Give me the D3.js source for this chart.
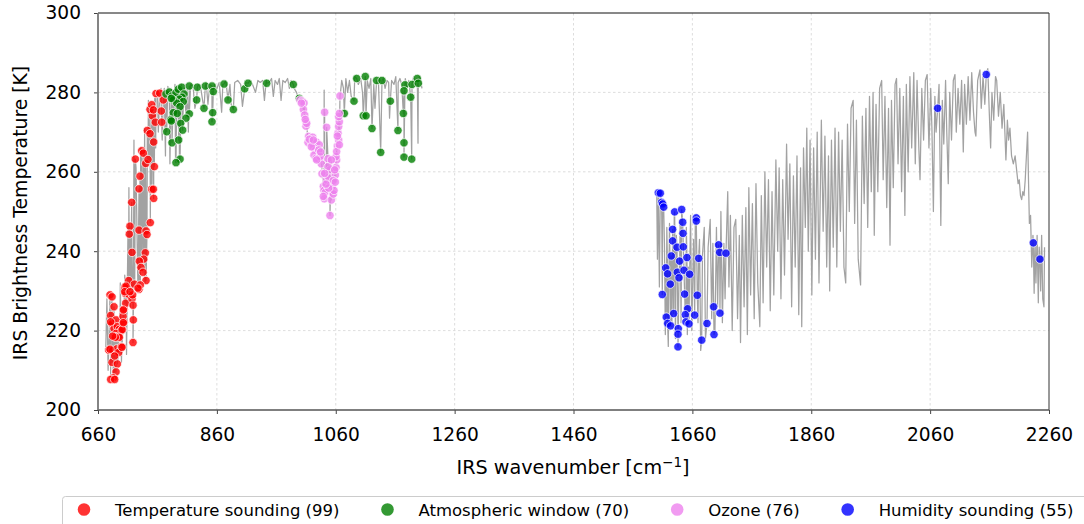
<!DOCTYPE html>
<html>
<head>
<meta charset="utf-8">
<script src="https://cdn.jsdelivr.net/npm/d3@7"></script>
<style>
  html, body { margin: 0; padding: 0; background: #fff; }
  svg { display: block; font-family: "DejaVu Sans", sans-serif; }
</style>
</head>
<body>
<div id="chart"></div>
<script>
// tick labels
var xTicks = [660, 860, 1060, 1260, 1460, 1660, 1860, 2060, 2260];
var yTicks = [200, 220, 240, 260, 280, 300];

// legend
var groupNames = ['Temperature sounding', 'Atmospheric window', 'Ozone', 'Humidity sounding'];
var groupCounts = [99, 70, 76, 55];
var groupColors = ['red', 'green', 'violet', 'blue'];

// selected channels [wavenumber, brightness temperature]
var tempPts = [
  [680.2,229.0],[683.6,228.5],[686.9,226.0],[681.3,223.8],[683.6,221.7],[690.3,222.7],[686.9,220.5],[692.5,221.0],
  [695.9,220.3],[697.0,219.6],[701.5,220.3],[703.7,222.1],[702.1,223.6],[703.7,225.4],[706.6,226.9],[706.0,229.4],
  [709.3,230.8],[711.6,232.6],[704.9,230.9],[712.7,229.0],[717.2,228.0],[718.9,226.4],[719.4,222.7],[718.9,217.0],
  [678.0,215.1],[684.7,215.0],[691.4,215.4],[699.2,215.9],[694.8,214.5],[683.6,212.0],[692.5,211.6],[690.3,209.6],
  [685.8,208.1],[681.3,207.7],[688.0,207.7],[690.3,219.3],[688.0,218.5],[694.8,218.6],[713.8,246.3],[712.7,244.3],
  [717.2,239.7],[716.7,252.3],[722.8,263.2],[730.7,258.9],[729.0,255.7],[729.0,245.3],[733.5,265.3],[736.3,264.7],
  [740.2,262.1],[744.1,263.1],[750.3,255.6],[753.1,255.6],[753.7,253.3],[754.8,261.3],[748.0,247.2],[740.8,245.1],
  [742.4,244.2],[739.6,239.6],[736.9,238.0],[729.5,237.5],[732.3,235.9],[735.7,234.7],[740.8,232.6],[721.1,231.7],
  [729.0,230.4],[731.2,231.5],[743.0,270.4],[747.5,269.6],[753.7,267.5],[751.4,274.1],[747.5,275.7],[750.3,276.9],
  [753.1,275.6],[756.4,272.5],[767.2,272.5],[766.5,275.3],[757.6,279.7],[763.8,279.8],[769.9,278.1],[681.3,222.2],
  [700.4,220.2],[695.9,218.3],[689.2,218.3],[684.7,218.6],[680.2,215.3],[700.4,215.8],[688.0,213.6],[707.1,231.2],
  [704.9,229.8],[702.6,225.2],[702.6,222.0],[718.3,229.0],[713.8,229.8],[727.3,230.7]
];
var windowPts = [
  [774.4,279.6],[780.0,280.1],[784.5,279.1],[791.2,279.9],[795.1,280.8],[800.8,281.3],[804.7,279.6],[801.3,278.8],
  [796.8,278.3],[803.5,277.7],[786.7,278.1],[792.4,277.3],[798.0,276.4],[786.7,274.9],[782.3,273.1],[775.6,270.1],
  [793.4,274.7],[813.6,281.6],[827.1,281.3],[840.6,281.6],[851.8,281.6],[854.0,280.2],[826.0,278.1],[838.3,276.0],
  [853.0,274.9],[851.8,272.6],[813.6,274.6],[808.0,273.5],[799.1,272.2],[802.5,270.5],[784.5,267.3],[795.7,268.0],
  [798.0,263.2],[791.2,262.3],[872.0,282.1],[878.7,278.1],[887.7,275.7],[906.8,280.9],[912.4,282.3],[943.8,282.3],
  [988.6,282.0],[998.7,278.5],[783.4,278.5],[783.4,272.8],
  [1095.2,283.5],[1109.7,284.0],[1128.8,283.0],[1137.8,283.0],[1197.2,283.5],[1176.5,281.9],[1188.3,282.0],[1198.9,282.3],
  [1174.8,280.4],[1186.1,278.8],[1090.7,277.8],[1151.8,277.8],[1074.4,274.7],[1106.3,274.1],[1110.9,274.1],[1173.7,274.7],
  [1121.0,270.9],[1164.7,270.4],[1174.8,267.3],[1135.6,264.9],[1174.8,263.7],[1187.8,263.2]
];
var ozonePts = [
  [999.8,278.1],[1003.2,277.8],[1006.6,277.3],[1005.5,275.7],[1007.7,274.3],[1009.9,272.6],[1009.9,271.5],[1014.4,268.9],
  [1017.8,268.4],[1021.2,268.7],[1013.3,267.4],[1020.0,267.2],[1024.5,267.6],[1027.9,267.4],[1032.4,266.8],[1022.3,266.2],
  [1025.6,265.3],[1029.0,264.7],[1023.4,264.2],[1032.4,263.1],[1035.7,262.0],[1036.9,259.5],[1039.1,256.3],[1040.2,255.3],
  [1042.5,254.8],[1040.8,253.2],[1044.7,257.9],[1048.1,258.6],[1050.3,260.5],[1049.2,263.0],[1047.0,263.3],[1051.4,256.7],
  [1053.7,256.3],[1054.8,254.6],[1052.6,252.9],[1055.9,254.4],[1057.1,255.3],[1059.3,259.2],[1060.4,261.1],[1061.5,263.0],
  [1060.4,263.8],[1062.7,266.5],[1064.9,268.0],[1063.8,269.7],[1064.9,271.4],[1066.0,272.6],[1064.9,273.9],[1066.0,274.7],
  [1067.1,279.1],[1041.3,275.0],[1044.7,271.2],[1050.3,249.0],[1047.0,261.3],[1048.1,255.9],[1026.8,263.4],[1031.3,265.5],
  [1033.5,263.8],[1015.6,268.2],[1018.9,266.3],[1055.9,257.8],[1058.2,260.5],[1061.5,265.1],[1066.0,266.8],[1062.7,269.0],
  [1011.1,272.2],[1008.8,273.2],[1002.1,277.3],[1041.3,259.6],[1043.6,256.9],[1039.1,253.8],[1052.6,263.0],[1059.3,257.4],
  [1027.9,263.0],[1034.6,265.0],[1022.3,268.0]
];
var humidPts = [
  [1602.7,254.7],[1606.0,254.6],[1608.3,252.3],[1610.0,251.9],[1611.7,251.1],[1630.2,249.9],[1642.0,250.5],[1643.7,247.3],
  [1644.2,244.5],[1626.8,245.5],[1626.8,242.6],[1634.1,241.0],[1644.7,241.1],[1624.5,238.8],[1638.6,237.5],[1650.9,238.4],
  [1615.1,235.8],[1618.4,234.3],[1634.6,234.7],[1637.5,233.3],[1645.9,235.2],[1655.4,234.2],[1622.8,231.7],[1609.4,229.1],
  [1647.0,229.2],[1668.3,228.9],[1670.6,238.2],[1666.6,248.4],[1666.6,247.6],[1704.2,241.6],[1705.9,239.7],[1716.5,239.5],
  [1695.8,226.0],[1706.4,224.4],[1652.0,225.5],[1648.1,224.0],[1663.9,223.9],[1628.5,224.3],[1616.1,223.4],[1618.4,221.8],
  [1623.5,221.2],[1649.2,222.2],[1654.3,221.7],[1636.3,220.5],[1635.8,219.1],[1684.6,221.8],[1675.7,217.6],[1696.4,219.0],
  [1635.8,215.9],[2072.7,276.0],[2154.5,284.5],[2233.6,242.1],[2244.8,238.0]
];

// rest of the measured spectrum, long-wave band
var lwSpectrum = [
  [673.0,215],[675.0,228],[677.0,210],[697.5,232],[699.5,212],[705.0,234],[708.0,214],[710.5,246],[712.0,256],[714.5,226],
  [720.5,268],[721.8,232],[724.0,261],[726.5,236],[731.8,266],[733.0,240],[738.5,271],[739.0,232],[744.8,278],[746.0,262],
  [749.0,271],[752.5,262],[755.5,278.5],[757.0,266],[760.0,280.5],[761.5,270],[766.0,281],[768.0,268],[771.5,281],[773.5,264],
  [777.5,281.5],[781.0,262],[783.5,281],[789.5,282],[790.5,262.5],[794.0,281],[797.0,262],[800.0,282],[806.0,282],[810.0,281],
  [812.0,270],[816.0,282],[820.0,281.5],[823.0,276],[829.0,282],[833.0,281],[836.0,278],[842.0,282.5],[845.0,277],[848.0,282],
  [856.0,282],[860.0,281],[864.0,282.5],[868.0,275],[870.0,282],[875.0,283],[882.0,282],[884.0,277],[890.0,282.5],[895.0,283],
  [900.0,282],[903.0,276.5],[909.0,282.5],[916.0,283],[920.0,282],[925.0,280],[929.0,283],[933.0,282.5],[937.0,283],[940.0,278],
  [943.0,283],[948.0,282.5],[952.0,283.5],[955.0,279],[958.0,283],[962.0,282],[965.0,283.5],[968.0,278],[971.0,283],[975.0,282.5],
  [979.0,283.5],[982.0,281],[985.0,283],[990.0,281],[994.0,280],[997.0,278.5],
  [1036.0,266],[1040.5,280.6],[1043.5,258],[1052.0,258],
  [1068.0,280],[1070.0,283],[1073.0,281],[1077.0,283.5],[1080.0,280],[1083.0,283],[1086.0,279],[1092.0,284],[1098.0,282],[1102.0,283.5],
  [1105.0,280],[1113.0,283],[1116.0,281],[1119.0,283.5],[1124.0,282],[1126.0,276],[1130.0,283],[1132.0,282],[1140.0,283.5],[1143.0,281],
  [1146.0,283],[1149.0,282.5],[1150.5,273.5],[1154.0,283],[1158.0,282],[1161.0,284],[1165.0,282.5],[1168.0,283.5],[1171.0,282],[1177.0,283.5],
  [1180.0,281],[1183.0,283],[1191.0,284],[1194.0,282],[1198.4,267.2],[1200.5,284],[1203.0,283],[1205.0,281]
];

// rest of the measured spectrum, mid-wave band
var mwSpectrum = [
  [1600.0,254.8],[1601.2,238],[1604.5,231],[1607.2,253],[1613.0,242],[1614.5,219],[1617.0,246],[1619.5,216],[1621.5,247],[1625.5,221],
  [1629.5,249],[1631.5,218],[1633.0,244],[1639.5,248],[1641.0,222],[1649.8,246],[1651.5,219],[1653.2,236],[1657.0,249],[1659.0,220],
  [1662.0,243],[1665.0,249],[1669.5,222],[1672.0,243],[1674.0,215],[1677.0,239],[1680.0,246],[1682.0,218],[1686.5,241],[1690.0,248],
  [1692.5,223],[1694.5,242],[1698.0,220],[1700.5,246],[1702.5,226],[1708.0,250],[1710.5,222],[1713.0,242],[1715.0,228],[1719.5,255],
  [1721.5,231],[1724.0,249],[1727.0,220],[1730.0,246],[1733.0,248],[1736.0,223],[1739.0,244],[1741.0,217],[1744.0,249],[1747.0,226],
  [1750.0,251],[1752.5,219],[1755.0,256],[1758.0,229],[1761.0,252],[1764.0,223],[1767.0,257],[1770.0,232],[1773.5,221],[1776.0,254],
  [1779.0,227],[1782.0,260],[1785.0,236],[1788.0,258],[1791.0,225],[1794.0,255],[1797.0,229],[1800.5,263],[1803.5,240],[1806.0,261],
  [1809.0,228],[1812.0,258],[1815.0,234],[1818.5,267],[1821.0,243],[1824.0,262],[1827.0,226],[1830.0,259],[1833.0,236],[1836.0,264],
  [1839.0,224],[1842.0,261],[1844.0,221],[1847.0,266],[1850.0,246],[1852.5,271],[1855.0,240],[1858.0,268],[1861.0,229],[1864.0,266],
  [1867.0,238],[1870.0,270],[1873.0,232],[1877.0,273],[1880.0,245],[1883.0,269],[1886.0,236],[1889.0,264],[1891.0,230],[1894.0,268],
  [1897.0,241],[1900.0,271],[1903.0,236],[1906.0,270],[1909.0,245],[1912.0,268],[1915.0,236],[1918.0,232],[1921.0,272],[1924.0,250],
  [1927.0,276],[1930.5,278],[1933.0,247],[1936.0,273],[1939.0,238],[1943.0,231.5],[1946.0,274],[1949.0,252],[1952.0,276],[1955.0,246],
  [1958.0,279],[1961.0,255],[1964.0,280],[1966.0,244],[1969.0,277],[1972.0,255],[1975.0,281],[1978.5,283],[1981.0,258],[1984.0,279],
  [1987.0,251],[1990.0,276],[1992.5,241.5],[1995.0,278],[1998.0,256],[2001.0,282],[2003.5,283.5],[2006.0,262],[2009.0,281],[2012.0,255],
  [2015.0,279],[2017.5,249],[2020.0,282],[2023.0,260],[2026.0,284],[2029.0,266],[2032.5,285],[2035.0,262],[2038.0,283],[2041.0,266],
  [2043.0,258],[2046.0,281],[2049.0,268],[2052.0,283],[2055.0,284.5],[2058.0,266],[2061.0,281],[2063.0,271],[2065.5,250],[2068.0,279],
  [2070.0,270],[2075.0,282],[2078.0,246.5],[2080.5,278],[2083.0,267],[2086.0,283],[2088.0,270],[2090.5,257],[2093.0,280],[2096.0,268],
  [2099.0,283],[2101.8,284.5],[2104.0,270],[2107.0,281],[2110.0,272],[2113.0,283],[2115.8,265],[2118.0,282],[2121.0,272],[2124.0,284],
  [2127.0,273],[2130.0,285],[2133.0,275],[2135.5,270],[2137.0,269],[2140.0,283],[2143.8,285.7],[2146.0,276],[2149.0,284],[2152.0,277],
  [2157.0,286],[2159.5,275],[2161.8,266],[2164.0,280],[2167.0,273],[2170.0,284],[2172.0,283],[2175.0,274],[2178.0,280],[2181.0,271],
  [2184.0,277],[2187.5,263],[2190.0,273],[2192.0,268],[2194.3,271],[2197.0,264],[2200.0,262],[2203.0,264],[2205.5,260.5],[2208.0,257],
  [2210.0,258],[2212.0,254],[2214.0,253],[2216.0,255],[2218.0,254],[2220.0,258],[2222.0,264],[2224.0,270],[2225.5,258],[2227.0,247],
  [2229.0,249],[2231.0,236],[2233.0,244],[2235.0,229.4],[2236.5,243],[2238.0,232],[2240.0,244],[2242.0,227],[2243.5,241],[2246.0,230],
  [2247.6,244],[2249.5,228],[2251.5,226],[2252.5,241]
];

var width = 1084;
var height = 524;
var plotLeft = 98, plotRight = 1049, plotTop = 13, plotBottom = 410;

var svg = d3.select('#chart')
  .append('svg')
  .attr('width', width)
  .attr('height', height);

var x = d3.scaleLinear().domain([660, 2260]).range([plotLeft, plotRight]);
var y = d3.scaleLinear().domain([200, 300]).range([plotBottom, plotTop]);

// grid
svg.append('g').selectAll('line')
  .data(xTicks.slice(1, -1))
  .enter()
  .append('line')
  .attr('x1', function (d) { return x(d); })
  .attr('x2', function (d) { return x(d); })
  .attr('y1', plotTop)
  .attr('y2', plotBottom)
  .attr('stroke', '#d4d4d4')
  .attr('stroke-width', 0.8)
  .attr('stroke-dasharray', '2.5,2.5');

svg.append('g').selectAll('line')
  .data(yTicks.slice(1, -1))
  .enter()
  .append('line')
  .attr('x1', plotLeft)
  .attr('x2', plotRight)
  .attr('y1', function (d) { return y(d); })
  .attr('y2', function (d) { return y(d); })
  .attr('stroke', '#d4d4d4')
  .attr('stroke-width', 0.8)
  .attr('stroke-dasharray', '2.5,2.5');

// spectrum line: channels and the rest of the spectrum, in wavenumber order
var all = [].concat(lwSpectrum, mwSpectrum, tempPts, windowPts, ozonePts, humidPts)
  .sort(function (a, b) { return a[0] - b[0]; });
var bands = [
  all.filter(function (d) { return d[0] < 1400; }),
  all.filter(function (d) { return d[0] > 1400; })
];

var line = d3.line()
  .x(function (d) { return x(d[0]); })
  .y(function (d) { return y(d[1]); });

svg.append('g').selectAll('path')
  .data(bands)
  .enter()
  .append('path')
  .attr('d', line)
  .attr('fill', 'none')
  .attr('stroke', '#a2a2a2')
  .attr('stroke-width', 1.25)
  .attr('stroke-linejoin', 'round');

// channel markers
[tempPts, windowPts, ozonePts, humidPts].forEach(function (pts, i) {
  svg.append('g').selectAll('circle')
    .data(pts)
    .enter()
    .append('circle')
    .attr('cx', function (d) { return x(d[0]); })
    .attr('cy', function (d) { return y(d[1]); })
    .attr('r', 4.2)
    .attr('fill', groupColors[i])
    .attr('fill-opacity', 0.8)
    .attr('stroke', '#fff')
    .attr('stroke-width', 0.7);
});

// axes
var xAxis = svg.append('g')
  .attr('transform', 'translate(0,' + plotBottom + ')')
  .call(d3.axisBottom(x).tickValues(xTicks).tickFormat(d3.format('d')).tickSize(4).tickPadding(14));
var yAxis = svg.append('g')
  .attr('transform', 'translate(' + plotLeft + ',0)')
  .call(d3.axisLeft(y).tickValues(yTicks).tickFormat(d3.format('d')).tickSize(4).tickPadding(13));

[xAxis, yAxis].forEach(function (g) {
  g.select('.domain').remove();
  g.selectAll('text')
    .attr('font-family', 'DejaVu Sans')
    .attr('font-size', 18.6)
    .attr('fill', '#000');
  g.selectAll('.tick line').attr('stroke', '#444');
});

// frame
svg.append('line').attr('x1', plotLeft).attr('x2', plotRight).attr('y1', plotTop).attr('y2', plotTop)
  .attr('stroke', '#111').attr('stroke-width', 1);
svg.append('line').attr('x1', plotRight).attr('x2', plotRight).attr('y1', plotTop).attr('y2', plotBottom)
  .attr('stroke', '#333').attr('stroke-width', 1);
svg.append('line').attr('x1', plotLeft).attr('x2', plotRight).attr('y1', plotBottom).attr('y2', plotBottom)
  .attr('stroke', '#555').attr('stroke-width', 1.5);
svg.append('line').attr('x1', plotLeft).attr('x2', plotLeft).attr('y1', plotTop).attr('y2', plotBottom)
  .attr('stroke', '#777').attr('stroke-width', 1.8);

// axis labels
var xLabel = svg.append('text')
  .attr('x', 573)
  .attr('y', 474)
  .attr('text-anchor', 'middle')
  .attr('font-size', 19.2);
xLabel.append('tspan').text('IRS wavenumber [cm');
xLabel.append('tspan').attr('dy', -7).attr('font-size', 13.5).text('\u22121');
xLabel.append('tspan').attr('dy', 7).text(']');

svg.append('text')
  .attr('transform', 'translate(27,213) rotate(-90)')
  .attr('text-anchor', 'middle')
  .attr('font-size', 18.8)
  .text('IRS Brightness Temperature [K]');

// legend
var legend = svg.append('g');
legend.append('rect')
  .attr('x', 62.5)
  .attr('y', 496.5)
  .attr('width', 1060)
  .attr('height', 44)
  .attr('rx', 3)
  .attr('fill', '#fff')
  .attr('stroke', '#cccccc')
  .attr('stroke-width', 1);

var lx = 84;
groupNames.forEach(function (name, i) {
  legend.append('circle')
    .attr('cx', lx)
    .attr('cy', 509.5)
    .attr('r', 6.3)
    .attr('fill', groupColors[i])
    .attr('fill-opacity', 0.8);
  var t = legend.append('text')
    .attr('x', lx + 31)
    .attr('y', 516)
    .attr('font-size', 16.5)
    .text(name + ' (' + groupCounts[i] + ')');
  lx = lx + 31 + t.node().getComputedTextLength() + 48;
});
</script>
</body>
</html>
